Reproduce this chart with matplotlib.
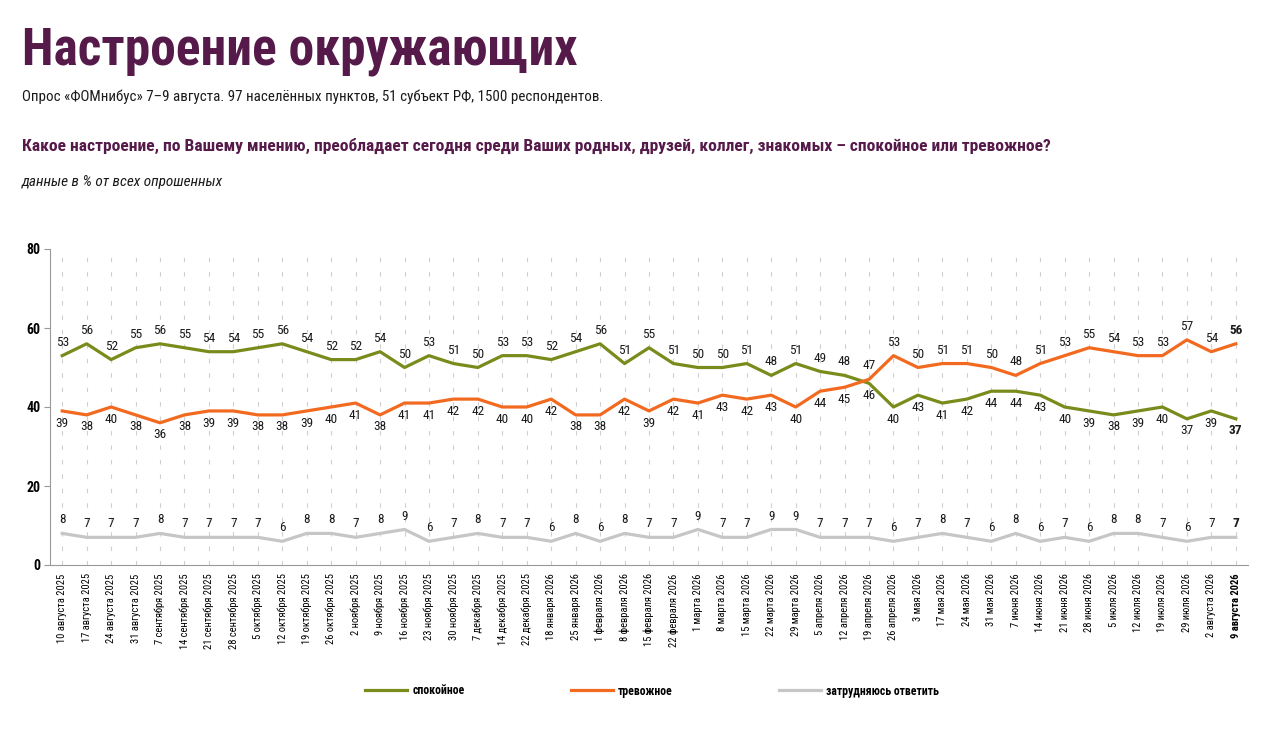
import matplotlib
matplotlib.use('Agg')
import matplotlib.pyplot as plt
from matplotlib import font_manager as fm

# narrow font if one is installed, else Roboto
names = set(f.name for f in fm.fontManager.ttflist)
narrow = 'Roboto'
for cand in ['Roboto Condensed', 'Liberation Sans Narrow', 'Open Sans Condensed']:
    if cand in names:
        narrow = cand
        break

dates = ['10 августа 2025', '17 августа 2025', '24 августа 2025', '31 августа 2025',
         '7 сентября 2025', '14 сентября 2025', '21 сентября 2025', '28 сентября 2025',
         '5 октября 2025', '12 октября 2025', '19 октября 2025', '26 октября 2025',
         '2 ноября 2025', '9 ноября 2025', '16 ноября 2025', '23 ноября 2025',
         '30 ноября 2025', '7 декабря 2025', '14 декабря 2025', '22 декабря 2025',
         '18 января 2026', '25 января 2026', '1 февраля 2026', '8 февраля 2026',
         '15 февраля 2026', '22 февраля 2026', '1 марта 2026', '8 марта 2026',
         '15 марта 2026', '22 марта 2026', '29 марта 2026', '5 апреля 2026',
         '12 апреля 2026', '19 апреля 2026', '26 апреля 2026', '3 мая 2026',
         '17 мая 2026', '24 мая 2026', '31 мая 2026', '7 июня 2026',
         '14 июня 2026', '21 июня 2026', '28 июня 2026', '5 июля 2026',
         '12 июля 2026', '19 июля 2026', '29 июля 2026', '2 августа 2026',
         '9 августа 2026']

calm = [53, 56, 52, 55, 56, 55, 54, 54, 55, 56,
        54, 52, 52, 54, 50, 53, 51, 50, 53, 53,
        52, 54, 56, 51, 55, 51, 50, 50, 51, 48,
        51, 49, 48, 46, 40, 43, 41, 42, 44, 44,
        43, 40, 39, 38, 39, 40, 37, 39, 37]

anxious = [39, 38, 40, 38, 36, 38, 39, 39, 38, 38,
           39, 40, 41, 38, 41, 41, 42, 42, 40, 40,
           42, 38, 38, 42, 39, 42, 41, 43, 42, 43,
           40, 44, 45, 47, 53, 50, 51, 51, 50, 48,
           51, 53, 55, 54, 53, 53, 57, 54, 56]

hard_to_say = [8, 7, 7, 7, 8, 7, 7, 7, 7, 6,
               8, 8, 7, 8, 9, 6, 7, 8, 7, 7,
               6, 8, 6, 8, 7, 7, 9, 7, 7, 9,
               9, 7, 7, 7, 6, 7, 8, 7, 6, 8,
               6, 7, 6, 8, 8, 7, 6, 7, 7]

GREEN = '#788c1c'
ORANGE = '#f26a1f'
GRAY = '#c6c6c6'
PURPLE = '#561a4a'

plt.rcParams['font.family'] = [narrow, 'DejaVu Sans']
condensed = narrow != 'Roboto'

fig = plt.figure(figsize=(12.8, 7.29), dpi=100)
ax = fig.add_axes([50/1280, 1-565/729, 1198/1280, 316/729])

x = list(range(len(dates)))
ax.plot(x, calm, color=GREEN, lw=2.3, label='спокойное', solid_joinstyle='round')
ax.plot(x, anxious, color=ORANGE, lw=2.3, label='тревожное', solid_joinstyle='round')
ax.plot(x, hard_to_say, color=GRAY, lw=2.3, label='затрудняюсь ответить', solid_joinstyle='round')

last = len(dates) - 1
for i in x:
    fw = 'bold' if i == last else 'normal'
    up_c = calm[i] > anxious[i]
    ax.annotate(str(calm[i]), (i, calm[i]), xytext=(0, 5 if up_c else -4), textcoords='offset points',
                ha='center', va='bottom' if up_c else 'top', fontsize=9.5, fontweight=fw, color='#1a1a1a')
    ax.annotate(str(anxious[i]), (i, anxious[i]), xytext=(0, -4 if up_c else 5), textcoords='offset points',
                ha='center', va='top' if up_c else 'bottom', fontsize=9.5, fontweight=fw, color='#1a1a1a')
    ax.annotate(str(hard_to_say[i]), (i, hard_to_say[i]), xytext=(0, 5), textcoords='offset points',
                ha='center', va='bottom', fontsize=9.5, fontweight=fw, color='#1a1a1a')

ax.set_xlim(-0.5, last + 0.5)
ax.set_ylim(0, 80)
ax.set_yticks([0, 20, 40, 60, 80])
ax.set_xticks(x)
ax.set_xticklabels(dates, rotation=90, fontsize=7.6 if condensed else 7.2)
ax.get_xticklabels()[-1].set_fontweight('bold')
for lab in ax.get_yticklabels():
    lab.set_fontweight('bold')
    lab.set_fontsize(10)
ax.tick_params(axis='x', length=0, pad=6)
ax.tick_params(axis='y', length=4, color='#999999', pad=3)
ax.grid(axis='x', color='#cfcfcf', lw=0.8, linestyle=(0, (4, 9)))
ax.set_axisbelow(True)
for s in ['top', 'right']:
    ax.spines[s].set_visible(False)
ax.spines['left'].set_color('#999999')
ax.spines['bottom'].set_color('#999999')

fig.legend(loc='center', bbox_to_anchor=(652/1280, 1-691/729), ncol=3, frameon=False,
           handlelength=3.6, handletextpad=0.4, columnspacing=9, prop={'size': 8.5, 'weight': 'bold'})

fig.text(22/1280, 1-64/729, 'Настроение окружающих', fontsize=37 if condensed else 30,
         fontweight='bold', color=PURPLE)
fig.text(22/1280, 1-101/729, 'Опрос «ФОМнибус» 7–9 августа. 97 населённых пунктов, 51 субъект РФ, 1500 респондентов.',
         fontsize=10.8 if condensed else 9.6, color='#1a1a1a')
fig.text(22/1280, 1-151/729, 'Какое настроение, по Вашему мнению, преобладает сегодня среди Ваших родных, друзей, коллег, знакомых – спокойное или тревожное?',
         fontsize=12.6 if condensed else 11.2, fontweight='bold', color=PURPLE)
fig.text(22/1280, 1-186/729, 'данные в % от всех опрошенных', fontsize=11 if condensed else 9.8,
         style='italic', color='#1a1a1a')

fig.savefig('out.png', dpi=100)
